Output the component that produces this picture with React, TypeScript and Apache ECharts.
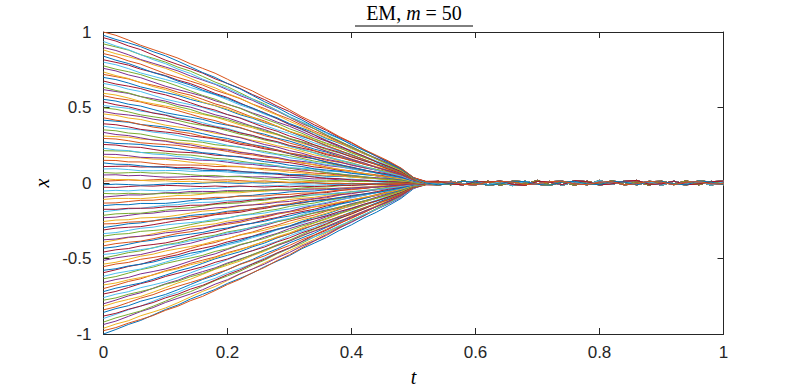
import React, { useEffect, useRef } from "react";
import * as echarts from "echarts";

// time grid of the Euler–Maruyama scheme (m = 50 steps)
const tValues = [
  0, 0.02, 0.04, 0.06, 0.08, 0.1, 0.12, 0.14, 0.16, 0.18, 0.2, 0.22, 0.24, 0.26, 0.28, 0.3, 0.32,
  0.34, 0.36, 0.38, 0.4, 0.42, 0.44, 0.46, 0.48, 0.5, 0.52, 0.54, 0.56, 0.58, 0.6, 0.62, 0.64, 0.66,
  0.68, 0.7, 0.72, 0.74, 0.76, 0.78, 0.8, 0.82, 0.84, 0.86, 0.88, 0.9, 0.92, 0.94, 0.96, 0.98, 1,
];

// initial values of the 100 paths, read at t = 0
const startValues = [
  -1, -0.978, -0.962, -0.937, -0.921, -0.897, -0.881, -0.857, -0.84, -0.816, -0.8, -0.776, -0.759,
  -0.735, -0.719, -0.699, -0.675, -0.659, -0.634, -0.618, -0.594, -0.578, -0.554, -0.537, -0.513,
  -0.497, -0.473, -0.457, -0.432, -0.416, -0.392, -0.376, -0.352, -0.335, -0.311, -0.295, -0.271,
  -0.255, -0.23, -0.214, -0.19, -0.174, -0.15, -0.133, -0.109, -0.093, -0.069, -0.053, -0.028,
  -0.012, 0.012, 0.028, 0.053, 0.069, 0.093, 0.109, 0.133, 0.15, 0.174, 0.19, 0.214, 0.23, 0.255,
  0.271, 0.295, 0.311, 0.335, 0.352, 0.376, 0.392, 0.416, 0.432, 0.457, 0.473, 0.497, 0.513, 0.537,
  0.554, 0.578, 0.594, 0.618, 0.634, 0.659, 0.675, 0.699, 0.719, 0.735, 0.759, 0.776, 0.8, 0.816,
  0.84, 0.857, 0.881, 0.897, 0.921, 0.937, 0.962, 0.978, 1,
];

// fraction of the initial value left at each time step (read from the envelope)
const decayProfile = [
  1, 0.974, 0.946, 0.916, 0.885, 0.853, 0.82, 0.786, 0.751, 0.715, 0.678, 0.64, 0.601, 0.561, 0.52,
  0.478, 0.436, 0.394, 0.352, 0.31, 0.268, 0.226, 0.184, 0.142, 0.098, 0.036, 0.006, 0, 0, 0, 0, 0,
  0, 0, 0, 0, 0, 0, 0, 0, 0, 0, 0, 0, 0, 0, 0, 0, 0, 0, 0,
];

// small wobble of the paths before convergence (t = 0 … 0.52)
const pathWobble = [
  [0, 0.004, 0.009, 0.006, 0.011, 0.015, 0.012, 0.017, 0.014, 0.01, 0.013, 0.008, 0.004, 0.007, 0.002, -0.003, 0.001, -0.004, -0.008, -0.005, -0.009, -0.006, -0.01, -0.007, -0.004, -0.002, 0.003],
  [0, -0.005, -0.003, -0.008, -0.012, -0.009, -0.014, -0.011, -0.016, -0.013, -0.009, -0.012, -0.007, -0.01, -0.005, -0.008, -0.003, 0.001, -0.002, 0.003, 0.006, 0.003, 0.007, 0.004, 0.006, 0.002, -0.004],
  [0, 0.003, -0.002, 0.002, -0.003, -0.007, -0.004, 0.001, 0.005, 0.002, 0.007, 0.011, 0.008, 0.012, 0.009, 0.013, 0.01, 0.006, 0.009, 0.005, 0.008, 0.004, 0.001, 0.004, 0.002, 0.001, 0.005],
  [0, -0.002, 0.003, 0.007, 0.004, 0.008, 0.005, 0.001, -0.003, 0, -0.005, -0.002, -0.007, -0.011, -0.008, -0.012, -0.009, -0.013, -0.01, -0.006, -0.009, -0.005, -0.002, -0.005, -0.003, -0.001, -0.006],
  [0, 0.004, 0.001, -0.004, -0.001, 0.003, 0.007, 0.004, 0.008, 0.012, 0.009, 0.005, 0.009, 0.006, 0.01, 0.007, 0.003, 0.006, 0.002, -0.002, 0.001, -0.003, 0, 0.003, 0.001, 0.001, 0.002],
];

// small residual wiggles around 0 after convergence (t = 0.54 … 1)
const tailStart = 27;
const tailRipple = [
  [0.008, -0.012, 0.015, -0.009, 0.012, -0.015, 0.009, -0.008, 0.017, -0.012, 0.009, -0.015, 0.012, -0.009, 0.015, -0.011, 0.008, -0.014, 0.012, -0.009, 0.015, -0.012, 0.011, -0.008],
  [-0.009, 0.012, -0.008, 0.015, -0.011, 0.009, -0.017, 0.012, -0.008, 0.011, -0.015, 0.009, -0.012, 0.017, -0.009, 0.012, -0.011, 0.008, -0.015, 0.012, -0.009, 0.011, -0.015, 0.009],
  [0.011, -0.006, -0.012, 0.009, 0.006, 0.012, -0.009, -0.015, 0.011, 0.006, -0.011, 0.015, 0.009, -0.012, -0.006, 0.011, 0.017, -0.009, -0.006, 0.012, -0.011, -0.006, 0.009, 0.012],
  [-0.012, -0.005, 0.011, 0.006, -0.015, -0.006, 0.012, 0.009, -0.009, -0.015, 0.006, 0.011, -0.006, -0.011, 0.012, 0.006, -0.012, 0.009, 0.011, -0.006, -0.012, 0.015, 0.006, -0.011],
  [0.005, 0.009, -0.009, -0.012, 0.005, 0.011, 0.006, -0.011, -0.005, 0.009, 0.012, -0.006, -0.011, 0.006, 0.009, -0.012, -0.005, 0.011, 0.006, -0.011, 0.005, 0.009, -0.006, -0.005],
];

const tTicks = [0, 0.2, 0.4, 0.6, 0.8, 1];
const xTicks = [-1, -0.5, 0, 0.5, 1];

const lineColors = ["#0072BD", "#D95319", "#EDB120", "#7E2F8E", "#77AC30", "#4DBEEE", "#A2142F"];

const AXIS = "#262626";
const SANS = "'Liberation Sans', Arial, Helvetica, sans-serif";
const SERIF = "'Liberation Serif', 'Times New Roman', serif";

export default function App() {
  const ref = useRef<HTMLDivElement>(null);

  useEffect(() => {
    if (!ref.current) return;
    const chart = echarts.init(ref.current, undefined, { renderer: "svg" });

    const series = startValues.map((x0, i) => ({
      type: "line",
      name: "path" + i,
      showSymbol: false,
      silent: true,
      xAxisIndex: 0,
      yAxisIndex: 0,
      lineStyle: { width: 1, color: lineColors[i % lineColors.length] },
      itemStyle: { color: lineColors[i % lineColors.length] },
      data: tValues.map((t, k) => {
        const wob = pathWobble[i % pathWobble.length];
        const extra =
          k < wob.length ? wob[k] : tailRipple[i % tailRipple.length][k - tailStart] ?? 0;
        return [t, x0 * decayProfile[k] + extra];
      }),
    }));

    const xAxisBase = {
      type: "value",
      min: tTicks[0],
      max: tTicks[tTicks.length - 1],
      interval: 0.2,
      splitLine: { show: false },
      axisLine: { show: true, onZero: false, lineStyle: { color: AXIS, width: 1 } },
      axisTick: { show: true, inside: true, length: 6, lineStyle: { color: AXIS } },
    };
    const yAxisBase = {
      type: "value",
      min: xTicks[0],
      max: xTicks[xTicks.length - 1],
      interval: 0.5,
      splitLine: { show: false },
      axisLine: { show: true, onZero: false, lineStyle: { color: AXIS, width: 1 } },
      axisTick: { show: true, inside: true, length: 6, lineStyle: { color: AXIS } },
    };

    chart.setOption({
      animation: false,
      grid: { left: 103.5, right: 76.5, top: 32, bottom: 58, containLabel: false },
      xAxis: [
        {
          ...xAxisBase,
          position: "bottom",
          axisLabel: { show: true, color: AXIS, fontSize: 17, fontFamily: SANS, margin: 10 },
        },
        { ...xAxisBase, position: "top", axisLabel: { show: false } },
      ],
      yAxis: [
        {
          ...yAxisBase,
          position: "left",
          axisLabel: { show: true, color: AXIS, fontSize: 17, fontFamily: SANS, margin: 12 },
        },
        { ...yAxisBase, position: "right", axisLabel: { show: false } },
      ],
      series,
      graphic: [
        {
          type: "text",
          x: 414,
          y: 13,
          style: {
            text: "{n|EM, }{i|m}{n| = 50}",
            align: "center",
            verticalAlign: "middle",
            fill: "#000",
            rich: {
              n: { fontFamily: SERIF, fontSize: 20, fill: "#000", color: "#000" },
              i: { fontFamily: SERIF, fontSize: 20, fontStyle: "italic", fill: "#000", color: "#000" },
            },
          },
        },
        {
          type: "line",
          shape: { x1: 355, y1: 26, x2: 473, y2: 26 },
          style: { stroke: "#000", lineWidth: 1 },
        },
        {
          type: "text",
          x: 413.5,
          y: 377,
          style: {
            text: "t",
            align: "center",
            verticalAlign: "middle",
            fontFamily: SERIF,
            fontStyle: "italic",
            fontSize: 20,
            fill: "#000",
          },
        },
        {
          type: "text",
          x: 42,
          y: 183,
          rotation: Math.PI / 2,
          style: {
            text: "x",
            align: "center",
            verticalAlign: "middle",
            fontFamily: SERIF,
            fontStyle: "italic",
            fontSize: 20,
            fill: "#000",
          },
        },
      ],
    });

    return () => chart.dispose();
  }, []);

  return <div ref={ref} style={{ width: 800, height: 392, position: "absolute", left: 0, top: 0 }} />;
}
